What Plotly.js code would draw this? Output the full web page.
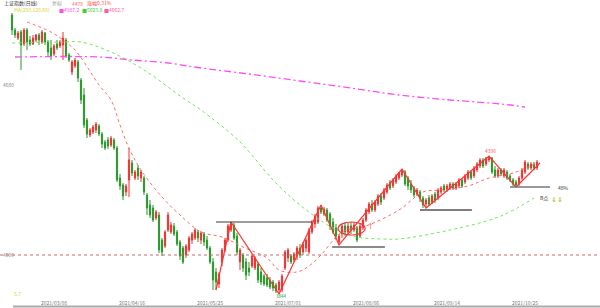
<!DOCTYPE html>
<html>
<head>
<meta charset="utf-8">
<script src="https://cdn.plot.ly/plotly-3.0.1.min.js"></script>
<style>html,body{margin:0;padding:0;background:#fff}#chart{width:600px;height:308px}</style>
</head>
<body>
<div id="chart"></div>
<script>
// ---------- data (estimates) ----------
const openP = [4960,4900,4868,4892,4844,4900,4860,4844,4860,4880,
4852,4888,4852,4828,4804,4844,4836,4840,4860,4800,
4732,4756,4772,4700,4640,4540,4480,4492,4500,4516,
4484,4452,4460,4440,4460,4428,4308,4280,4252,4300,
4368,4308,4348,4308,4308,4240,4200,4188,4148,4160,
4060,4036,4100,4092,4116,4092,4052,4028,4000,4020,
4060,4068,4092,4060,4084,4060,4028,3972,3932,3884,
3972,4020,4060,4100,4120,4076,3972,4000,3972,3948,
3956,3948,3964,3932,3916,3908,3900,3892,3880,3860,
3860,3948,3988,3996,3980,3996,4028,4012,4028,4012,
4092,4124,4132,4188,4164,4180,4164,4132,4108,4052,
4084,4116,4092,4116,4100,4108,4076,4108,4140,4172,
4204,4180,4204,4236,4228,4252,4292,4276,4292,4308,
4320,4332,4308,4284,4268,4244,4252,4228,4204,4228,
4212,4244,4228,4252,4276,4260,4268,4284,4268,4276,
4300,4292,4308,4332,4316,4340,4356,4380,4364,4380,
4388,4340,4316,4340,4316,4332,4316,4300,4292,4284,
4308,4332,4364,4348,4364,4348];
const closeP = [4900,4880,4888,4840,4900,4852,4844,4868,4880,4860,
4892,4852,4812,4796,4836,4828,4852,4868,4796,4780,
4772,4780,4708,4620,4520,4484,4500,4512,4524,4484,
4444,4428,4436,4468,4428,4300,4276,4236,4276,4380,
4328,4332,4316,4332,4252,4188,4160,4140,4172,4020,
4012,4092,4160,4120,4084,4044,3996,3972,4036,4068,
4084,4100,4068,4088,4052,4028,3972,3900,3892,3924,
4020,4060,4116,4124,4068,4012,4020,3948,3920,3932,
3996,3988,3900,3892,3884,3880,3872,3868,3856,3892,
3916,4012,4020,3972,4004,4028,4000,4044,4060,4100,
4132,4156,4188,4172,4184,4140,4116,4092,4076,4076,
4116,4092,4116,4100,4120,4060,4116,4140,4180,4204,
4180,4212,4236,4212,4260,4280,4268,4300,4316,4328,
4336,4284,4276,4260,4240,4260,4228,4200,4220,4204,
4236,4220,4260,4268,4260,4276,4284,4268,4284,4300,
4276,4316,4332,4308,4348,4364,4380,4356,4388,4392,
4332,4316,4340,4324,4340,4308,4300,4284,4280,4308,
4340,4372,4348,4364,4348,4372];
const highP = [4968,4908,4896,4900,4908,4908,4876,4880,4884,4888,
4900,4892,4860,4860,4844,4860,4860,4892,4868,4808,
4780,4788,4780,4708,4668,4548,4508,4520,4532,4524,
4492,4460,4472,4476,4468,4436,4324,4288,4284,4428,
4380,4340,4360,4340,4316,4248,4220,4200,4180,4172,
4068,4100,4172,4132,4128,4100,4060,4036,4044,4076,
4092,4108,4100,4096,4092,4076,4036,3988,3948,3932,
4028,4068,4124,4132,4128,4088,4028,4008,3988,3972,
4004,3996,3972,3948,3924,3924,3912,3900,3888,3900,
3924,4020,4028,4004,4012,4036,4044,4052,4068,4108,
4140,4164,4196,4200,4192,4188,4172,4148,4124,4084,
4124,4132,4128,4132,4132,4116,4124,4148,4188,4212,
4220,4220,4244,4248,4268,4288,4300,4308,4324,4332,
4344,4340,4316,4300,4276,4268,4260,4236,4228,4240,
4244,4252,4268,4276,4284,4284,4292,4292,4292,4308,
4308,4324,4340,4340,4356,4372,4388,4388,4392,4396,
4392,4356,4348,4348,4348,4340,4324,4308,4300,4316,
4348,4380,4372,4372,4372,4380];
const lowP = [4880,4868,4860,4740,4836,4820,4836,4840,4852,4840,
4844,4840,4796,4780,4796,4820,4828,4780,4788,4772,
4720,4748,4692,4604,4508,4468,4472,4484,4488,4476,
4428,4420,4424,4432,4420,4292,4260,4220,4236,4232,
4316,4300,4300,4292,4240,4160,4148,4132,4140,4008,
3996,4028,4092,4084,4076,4036,3980,3964,3988,4012,
4044,4060,4052,4044,4036,4020,3964,3860,3860,3868,
3956,4012,4052,4092,4060,4000,3940,3932,3900,3916,
3948,3940,3888,3880,3876,3872,3864,3856,3848,3844,
3852,3940,3972,3964,3972,3980,3988,4000,4012,4004,
4084,4108,4124,4164,4156,4132,4100,4084,4060,4040,
4068,4076,4084,4084,4092,4052,4068,4100,4132,4164,
4172,4172,4196,4200,4220,4244,4260,4268,4284,4300,
4312,4276,4260,4248,4232,4236,4212,4188,4188,4196,
4204,4208,4220,4244,4252,4252,4260,4260,4260,4268,
4268,4284,4300,4300,4308,4332,4348,4348,4356,4372,
4324,4308,4308,4316,4308,4300,4292,4276,4272,4276,
4300,4324,4340,4340,4340,4340];

// moving averages (read at sample points)
const maLongIdx = [1,29,40,52,63,79,96,113,129,146,163,171];
const maLongVal = [4792,4792,4780,4768,4748,4724,4696,4668,4640,4620,4604,4592];
const maMidIdx = [0,17,23,33,44,57,63,76,87,96,107,115,124,129,146,163,174];
const maMidVal = [4848,4852,4852,4812,4740,4628,4580,4452,4300,4200,4108,4072,4064,4064,4100,4156,4228];
const maShortIdx = [5,13,17,21,24,29,33,36,39,43,50,56,63,70,77,85,89,95,99,103,110,118,129,137,143,152,159,167,175];
const maShortVal = [4932,4892,4860,4820,4772,4680,4620,4520,4428,4340,4232,4160,4092,4072,4032,3988,3940,3932,3956,4000,4092,4116,4180,4252,4260,4276,4308,4328,4368];

// wave (zigzag) turning points
const waveIdx = [68,73,89,103,109,130,138,159,168,176];
const waveVal = [3860,4132,3844,4200,4040,4344,4188,4396,4272,4368];

// level lines
const levelA = 4132, levelB = 4032, levelC = 4180, levelD = 4272, baseLevel = 4000;

// axis labels
const dateTickIdx = [14,40,66,92,118,145,171];
const dateTickText = ["2021/03/08","2021/04/16","2021/05/25","2021/07/01","2021/08/06","2021/09/14","2021/10/25"];
const priceTickVals = [4000,4680];

// ---------- chart ----------
const N = openP.length;
const idx = Array.from({length:N},(_,i)=>i);
const H = 299;
const px = x => x/600, py = y => 1 - y/H;
const F = '"Noto Sans CJK SC","Noto Sans",sans-serif';

const traces = [
  {type:'candlestick', x:idx, open:openP, high:highP, low:lowP, close:closeP,
   increasing:{line:{color:'#f03030',width:1}, fillcolor:'#f03030'},
   decreasing:{line:{color:'#2a962a',width:1}, fillcolor:'#2a962a'},
   whiskerwidth:0, hoverinfo:'skip', showlegend:false},
  {type:'scatter', mode:'lines', x:maLongIdx, y:maLongVal, line:{color:'#ff50ee',width:1.3,dash:'7px,3px,2px,3px',shape:'spline'}, showlegend:false, hoverinfo:'skip'},
  {type:'scatter', mode:'lines', x:maMidIdx, y:maMidVal, line:{color:'#6fe85a',width:1,dash:'dot',shape:'spline'}, showlegend:false, hoverinfo:'skip'},
  {type:'scatter', mode:'lines', x:maShortIdx, y:maShortVal, line:{color:'#ff6a6a',width:1,dash:'dot',shape:'spline'}, showlegend:false, hoverinfo:'skip'},
  {type:'scatter', mode:'lines', x:waveIdx, y:waveVal, line:{color:'#ff3333',width:1.2}, showlegend:false, hoverinfo:'skip'}
];

const shapes = [
  {type:'line', xref:'paper', x0:0, x1:1, yref:'y', y0:baseLevel, y1:baseLevel, line:{color:'#c86a6a',width:1,dash:'dot'}},
  {type:'line', xref:'x', x0:68, x1:100, yref:'y', y0:levelA, y1:levelA, line:{color:'#3a3a3a',width:1.2}},
  {type:'line', xref:'x', x0:106.7, x1:124.3, yref:'y', y0:levelB, y1:levelB, line:{color:'#8a8a8a',width:2}},
  {type:'line', xref:'x', x0:136, x1:153.3, yref:'y', y0:levelC, y1:levelC, line:{color:'#555',width:1.5}},
  {type:'line', xref:'x', x0:166, x1:179.3, yref:'y', y0:levelD, y1:levelD, line:{color:'#777',width:1.5}},
  {type:'circle', xref:'x', yref:'y', x0:108.7, x1:117.7, y0:4080, y1:4132, line:{color:'#f03a3a',width:1.2}},
  {type:'line', xref:'paper', x0:px(13), x1:1, yref:'paper', y0:py(306.5), y1:py(306.5), line:{color:'#aaa',width:2}}
];

function ann(text, x, y, color, size, anchor){
  return {text:text, xref:'paper', yref:'paper', x:px(x), y:py(y), xanchor:anchor||'left', yanchor:'middle',
    showarrow:false, font:{family:F, size:size||5, color:color}};
}
const annotations = [
  ann('上证指数(日线)', 2, 3.5, '#333'),
  ann('复权', 50, 3.5, '#999'),
  ann('4478', 70, 3.5, '#ff6a6a'),
  ann('涨幅0.31%', 85, 3.5, '#ff4a4a'),
  ann('MA(250,120,60)', 12, 9.5, '#d6d630'),
  ann('■4987.2', 57, 9.5, '#ff50ee'),
  ann('■5023.8', 80, 9.5, '#3fcf3f'),
  ann('■4662.7', 102, 9.5, '#ff5a9a'),
  ann('4396', 490, 150, '#ff5a5a', 5, 'center'),
  ann('3844', 281, 296, '#2a9a2a', 4.5, 'center'),
  ann('48%', 556, 187, '#333', 5),
  ann('B点', 538, 198, '#333', 5),
  ann('⇓⇓', 549, 199, '#a8b400', 7),
  ann('↑', 370, 226, '#ff4040', 7, 'center'),
  ann('5.7', 12, 293, '#d6d630', 5)
];

const layout = {
  width:600, height:308, margin:{l:0,r:0,t:0,b:9},
  paper_bgcolor:'#fff', plot_bgcolor:'#fff', showlegend:false, boxgap:0.45,
  xaxis:{range:[-4,196], showgrid:false, zeroline:false, rangeslider:{visible:false},
    tickvals:dateTickIdx, ticktext:dateTickText, ticks:'', ticklabelposition:'outside',
    tickfont:{family:F, size:5, color:'#777'}, showline:false, automargin:false},
  yaxis:{range:[5020-4*H,5020], showgrid:false, zeroline:false, tickvals:priceTickVals,
    ticktext:priceTickVals.map(String), ticks:'', ticklabelposition:'inside',
    tickfont:{family:F, size:5, color:'#888'}, showline:false},
  shapes:shapes, annotations:annotations
};
Plotly.newPlot('chart', traces, layout, {staticPlot:true, displayModeBar:false});
</script>
</body>
</html>
